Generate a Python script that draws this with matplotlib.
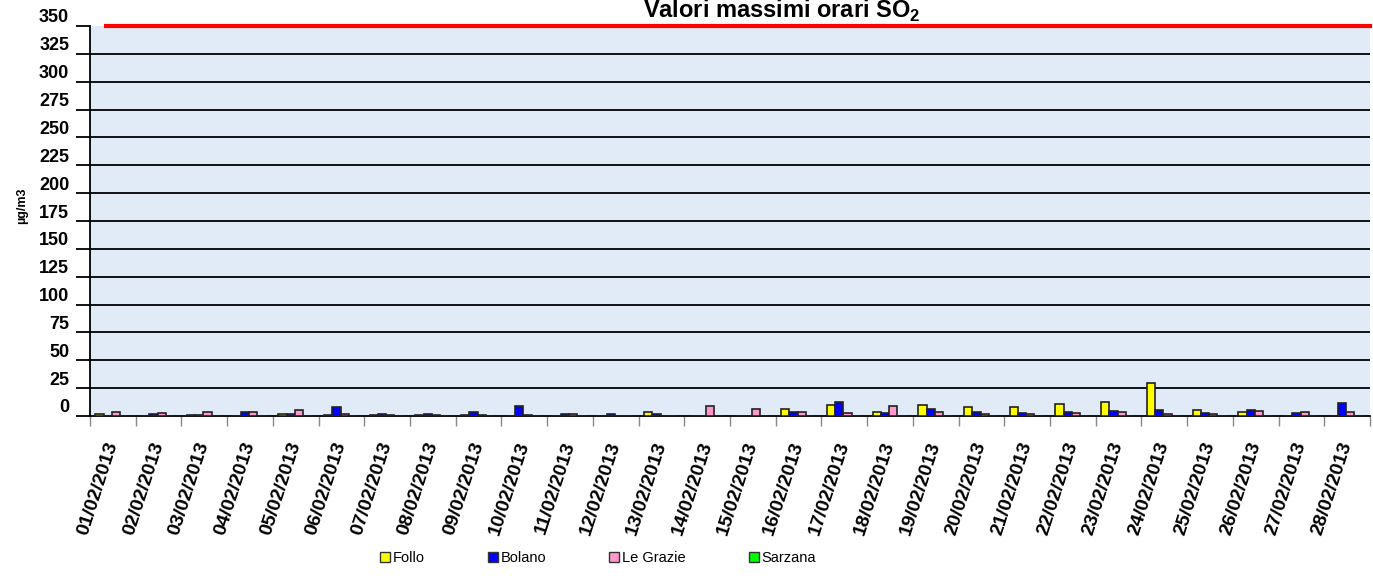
import matplotlib
matplotlib.use("Agg")
import matplotlib.pyplot as plt
import numpy as np
from matplotlib.patches import Patch
import matplotlib.transforms as mtransforms

plt.rcParams['font.family'] = ['Liberation Sans', 'DejaVu Sans']
plt.rcParams['mathtext.fontset'] = 'custom'
plt.rcParams['mathtext.rm'] = 'Liberation Sans'
plt.rcParams['mathtext.bf'] = 'Liberation Sans:bold'

dates = ["%02d/02/2013" % d for d in range(1, 29)]
follo = [2, 0, 0.5, 0, 2, 1, 0.5, 0.5, 0.5, 0, 0, 0, 4, 0, 0, 6.5, 10, 4, 9.5, 8.5,
         8.5, 10.8, 12.3, 29.3, 5, 4, 0, 0]
bolano = [0, 2, 1, 4, 2, 8, 2, 2, 4, 9, 2, 2, 2, 0, 0, 4, 12.5, 3, 6.5, 3.5,
          3, 3.3, 4.2, 5.4, 3, 5.7, 2.7, 11.7]
legrazie = [4, 3, 4, 4, 5, 2, 1, 1, 1, 1, 2, 0, 0, 9, 6, 3.5, 3, 9, 4, 2,
            2, 2.7, 3.3, 2, 1.8, 4.2, 3.3, 3.3]
sarzana = [0] * 28
limite = 350

series = [("Follo", follo, "#ffff00"), ("Bolano", bolano, "#0000ff"),
          ("Le Grazie", legrazie, "#ff99cc"), ("Sarzana", sarzana, "#00ff00")]

fig = plt.figure(figsize=(13.73, 5.82), dpi=100)
ax = fig.add_axes([90/1373, 1-416/582, 1280/1373, 390/582])
ax.set_facecolor('#e0ebf7')

x = np.arange(len(dates))
w = 0.18
offsets = [-0.29, -0.11, 0.07, 0.25]
for (name, vals, col), off in zip(series, offsets):
    ax.bar(x + off, vals, width=w, color=col, edgecolor='#222222', linewidth=1.2, zorder=3)

ax.set_ylim(0, 350)
ax.set_xlim(-0.5, len(dates) - 0.5)
ax.set_yticks(np.arange(0, 351, 25))
for yv in np.arange(25, 350, 25):
    ax.axhline(yv, color='black', lw=1.3, zorder=1)
ax.axhline(limite, xmin=0.0125, color='#ff0000', lw=3, zorder=4, clip_on=False)

ax.tick_params(axis='y', direction='out', length=10, width=1.3, labelsize=13, pad=5)
for lab in ax.get_yticklabels():
    lab.set_fontweight('bold')
    lab.set_transform(lab.get_transform() + mtransforms.ScaledTranslation(0, 10/100, fig.dpi_scale_trans))

ax.set_xticks(x)
ax.set_xticklabels(dates, rotation=72, ha='right', va='center', rotation_mode='anchor',
                   fontsize=14, fontweight='bold')
for lab in ax.get_xticklabels():
    lab.set_transform(lab.get_transform() + mtransforms.ScaledTranslation(-4/100, 0, fig.dpi_scale_trans))
ax.tick_params(axis='x', length=0, pad=19)
ax.set_xticks(np.arange(-0.5, len(dates), 1), minor=True)
ax.tick_params(axis='x', which='minor', direction='out', length=7, width=1, color='#888888')

for s in ['top', 'right']:
    ax.spines[s].set_visible(False)
ax.spines['left'].set_linewidth(1.3)
ax.spines['bottom'].set_linewidth(1.3)

ax.set_ylabel("µg/m3", fontsize=9, fontweight='bold')
ax.yaxis.set_label_coords(-0.048, 0.54)

fig.text(0.569, 1 - 17.5/582, "Valori massimi orari SO$_\\mathbf{2}$", ha='center', va='baseline',
         fontsize=17, fontweight='bold')

handles = [Patch(facecolor=c, edgecolor='#333333', label=n) for n, _, c in series]
fig.legend(handles=handles, loc='center', bbox_to_anchor=(0.4355, 0.041), ncol=4,
           frameon=False, prop={'size': 10.5},
           handlelength=0.7, handleheight=0.7, handletextpad=0.2, columnspacing=4.3)

fig.savefig("out.png", dpi=100)
